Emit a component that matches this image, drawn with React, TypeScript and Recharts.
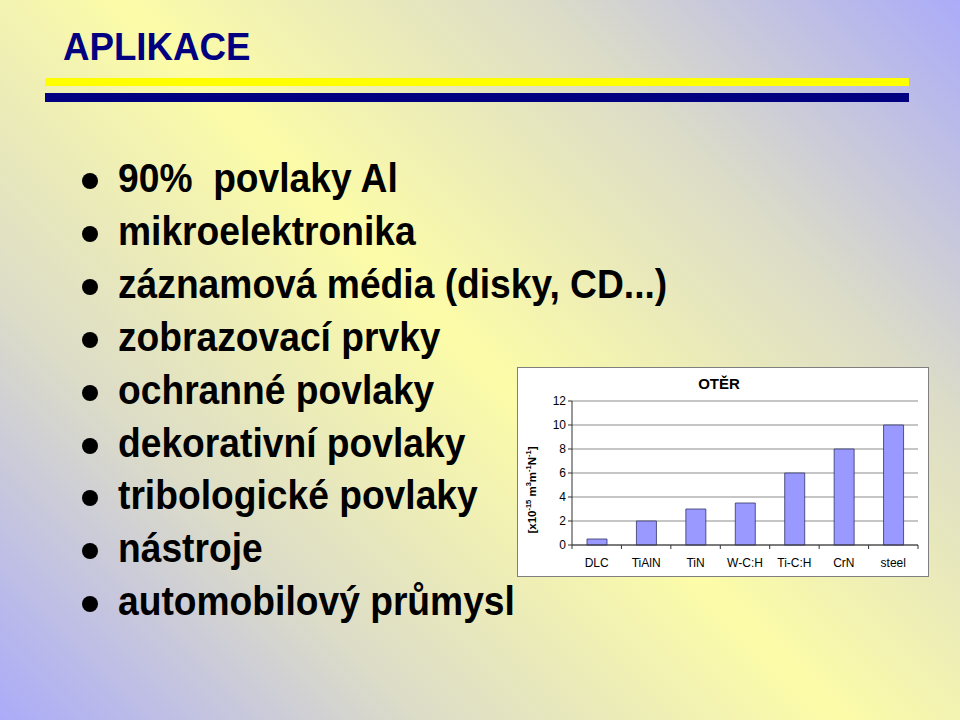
import React from "react";
import { BarChart, Bar, XAxis, YAxis, CartesianGrid } from "recharts";

const categories = ["DLC", "TiAlN", "TiN", "W-C:H", "Ti-C:H", "CrN", "steel"];
const wearValues = [0.5, 2, 3, 3.5, 6, 8, 10];
const yTicks = [0, 2, 4, 6, 8, 10, 12];
const bullets = [
  "90%  povlaky Al",
  "mikroelektronika",
  "záznamová média (disky, CD...)",
  "zobrazovací prvky",
  "ochranné povlaky",
  "dekorativní povlaky",
  "tribologické povlaky",
  "nástroje",
  "automobilový průmysl",
];
const slideTitle = "APLIKACE";
const chartTitle = "OTĚR";

const data = categories.map((c, i) => ({ name: c, value: wearValues[i] }));

const FONT = "'Liberation Sans', Arial, sans-serif";

function CategoryTick(props: any) {
  const { x, y, payload, width, visibleTicksCount, index } = props;
  const band = width / (visibleTicksCount || categories.length);
  const half = band / 2;
  return (
    <g>
      <line x1={x - half} x2={x - half} y1={y} y2={y + 4} stroke="#333" strokeWidth={1} />
      {index === categories.length - 1 ? (
        <line x1={x + half} x2={x + half} y1={y} y2={y + 4} stroke="#333" strokeWidth={1} />
      ) : null}
      <text x={x} y={y + 22} textAnchor="middle" fontSize={12} fontFamily={FONT} fill="#000">
        {payload.value}
      </text>
    </g>
  );
}

function YLabel(props: any) {
  const vb = props.viewBox || { x: 0, y: 0, width: 0, height: 0 };
  const cx = vb.x + 15;
  const cy = vb.y + vb.height / 2 + 17;
  return (
    <text
      x={cx}
      y={cy}
      transform={`rotate(-90 ${cx} ${cy})`}
      textAnchor="middle"
      dominantBaseline="middle"
      fontSize={11.5}
      fontWeight="bold"
      fontFamily={FONT}
      fill="#000"
    >
      <tspan>[x10</tspan>
      <tspan fontSize={7.5} dy={-4}>-15</tspan>
      <tspan dy={4}> m</tspan>
      <tspan fontSize={7.5} dy={-4}>3</tspan>
      <tspan dy={4}>m</tspan>
      <tspan fontSize={7.5} dy={-4}>-1</tspan>
      <tspan dy={4}>N</tspan>
      <tspan fontSize={7.5} dy={-4}>-1</tspan>
      <tspan dy={4}>]</tspan>
    </text>
  );
}

export default function App() {
  return (
    <div
      style={{
        position: "absolute",
        left: 0,
        top: 0,
        width: 960,
        height: 720,
        overflow: "hidden",
        background:
          "linear-gradient(45deg, #ababf9 0%, #dcdcc8 25%, #fcfca8 50%, #dcdcc8 75%, #ababf9 100%)",
        fontFamily: FONT,
      }}
    >
      {/* Title */}
      <div
        style={{
          position: "absolute",
          left: 63,
          top: 63 - 36,
          fontSize: 39,
          lineHeight: "39px",
          fontWeight: "bold",
          color: "#000080",
          transform: "scaleX(0.94)",
          transformOrigin: "left top",
          height: 39,
          whiteSpace: "nowrap",
        }}
      >
        {slideTitle}
      </div>
      {/* Decorative bars */}
      <div style={{ position: "absolute", left: 45, top: 78, width: 864, height: 8, background: "#ffff00" }} />
      <div style={{ position: "absolute", left: 45, top: 93, width: 864, height: 9, background: "#000080" }} />

      {/* Bullets */}
      {bullets.map((b, i) => {
        const baseline = 192 + i * 52.9;
        return (
          <React.Fragment key={b}>
            <div
              style={{
                position: "absolute",
                left: 82,
                top: baseline - 19,
                width: 16,
                height: 16,
                borderRadius: "50%",
                background: "#000",
              }}
            />
            <div
              style={{
                position: "absolute",
                left: 118,
                top: baseline - 37,
                fontSize: 40,
                lineHeight: "46px",
                fontWeight: "bold",
                color: "#000",
                whiteSpace: "pre",
                transform: "scaleX(0.93)",
                transformOrigin: "left top",
              }}
            >
              {b}
            </div>
          </React.Fragment>
        );
      })}

      {/* Chart */}
      <div
        style={{
          position: "absolute",
          left: 517,
          top: 367,
          width: 410,
          height: 208,
          background: "#fff",
          border: "1px solid #7f7f7f",
        }}
      >
        <div
          style={{
            position: "absolute",
            left: 0,
            width: 402,
            textAlign: "center",
            top: 7,
            fontSize: 15,
            fontWeight: "bold",
            color: "#000",
            fontFamily: FONT,
            lineHeight: "17px",
          }}
        >
          {chartTitle}
        </div>
        <BarChart
          width={410}
          height={208}
          data={data}
          margin={{ top: 33, right: 10, left: 0, bottom: 0 }}
          barSize={20}
        >
          <CartesianGrid vertical={false} stroke="#8c8c8c" strokeWidth={1} />
          <XAxis
            dataKey="name"
            height={31}
            axisLine={{ stroke: "#333" }}
            tickLine={false}
            tickSize={0}
            tickMargin={0}
            tick={<CategoryTick />}
            interval={0}
          />
          <YAxis
            width={54}
            domain={[0, 12]}
            ticks={yTicks}
            interval={0}
            axisLine={{ stroke: "#333" }}
            tickLine={{ stroke: "#333" }}
            tickSize={4}
            tickMargin={2}
            tick={{ fontSize: 12, fill: "#000", fontFamily: FONT }}
            label={<YLabel />}
          />
          <Bar dataKey="value" fill="#9999ff" stroke="#333366" strokeWidth={0.8} isAnimationActive={false} />
        </BarChart>
      </div>
    </div>
  );
}
